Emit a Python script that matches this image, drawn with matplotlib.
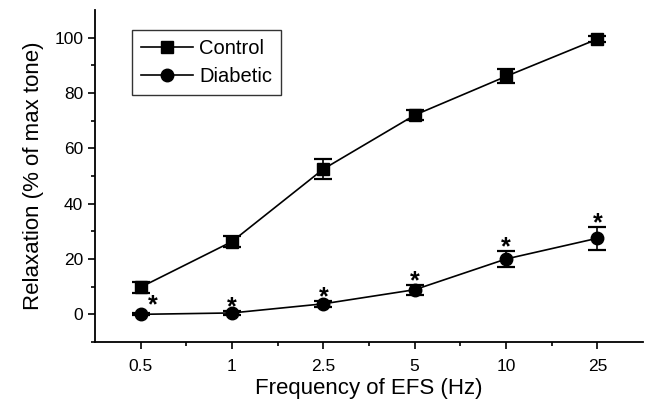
import matplotlib.pyplot as plt
from matplotlib.lines import Line2D
import numpy as np

plt.rcParams['font.family'] = ['Liberation Sans', 'DejaVu Sans']

freq_labels = ['0.5', '1', '2.5', '5', '10', '25']
control = [9.8, 26.3, 52.5, 72.0, 86.0, 99.5]
control_err = [2.0, 2.0, 3.5, 1.8, 2.5, 1.0]
diabetic = [0.0, 0.5, 3.8, 8.9, 20.0, 27.5]
diabetic_err = [0.4, 0.6, 1.0, 1.8, 3.0, 4.1]
signif = [True, True, True, True, True, True]


def main():
    fig = plt.figure(figsize=(6.5, 4.03), dpi=100)
    ax = fig.add_axes([95 / 650, 1 - 342 / 403, 548 / 650, 332 / 403])
    x = np.arange(len(freq_labels))

    ax.errorbar(x, control, yerr=control_err, color='black', marker='s',
                markersize=8.5, lw=1.2, capsize=6.5, capthick=1.6,
                elinewidth=1.2)
    ax.errorbar(x, diabetic, yerr=diabetic_err, color='black', marker='o',
                markersize=9, lw=1.2, capsize=6.5, capthick=1.6,
                elinewidth=1.2)

    # significance stars above diabetic points
    for i, s in enumerate(signif):
        if not s:
            continue
        top = diabetic[i] + diabetic_err[i]
        dx = 0.13 if i == 0 else 0.0
        dy = 0.5 if i == 0 else -1.2
        ax.text(x[i] + dx, top + dy, '*', ha='center', va='baseline',
                fontsize=18, fontweight='bold')

    ax.set_xlim(-0.5, 5.5)
    ax.set_ylim(-10, 110)
    ax.set_xticks(x)
    ax.set_xticklabels(freq_labels)
    ax.set_xticks(np.arange(0.5, 5.0, 1.0), minor=True)
    ax.set_yticks([0, 20, 40, 60, 80, 100])
    ax.set_yticks([-10, 10, 30, 50, 70, 90], minor=True)
    ax.tick_params(axis='both', which='major', length=5, width=1.2,
                   labelsize=12.5, direction='out')
    ax.tick_params(axis='x', which='major', pad=7)
    ax.tick_params(axis='both', which='minor', length=3, width=1.2,
                   direction='out')
    for side in ['top', 'right']:
        ax.spines[side].set_visible(False)
    for side in ['left', 'bottom']:
        ax.spines[side].set_linewidth(1.3)

    ax.set_xlabel('Frequency of EFS (Hz)', fontsize=16, labelpad=3)
    ax.set_ylabel('Relaxation (% of max tone)', fontsize=16, labelpad=7)

    handles = [
        Line2D([], [], color='black', marker='s', markersize=8.5, lw=1.2),
        Line2D([], [], color='black', marker='o', markersize=9, lw=1.2),
    ]
    leg = ax.legend(handles, ['Control', 'Diabetic'], loc='upper left',
                    bbox_to_anchor=(0.067, 0.94), fontsize=14.5, frameon=True,
                    fancybox=False, edgecolor='black', handlelength=2.6,
                    borderpad=0.45, handletextpad=0.3, labelspacing=0.45,
                    borderaxespad=0)
    leg.get_frame().set_linewidth(1.0)

    fig.savefig('out.png', dpi=100)


main()
